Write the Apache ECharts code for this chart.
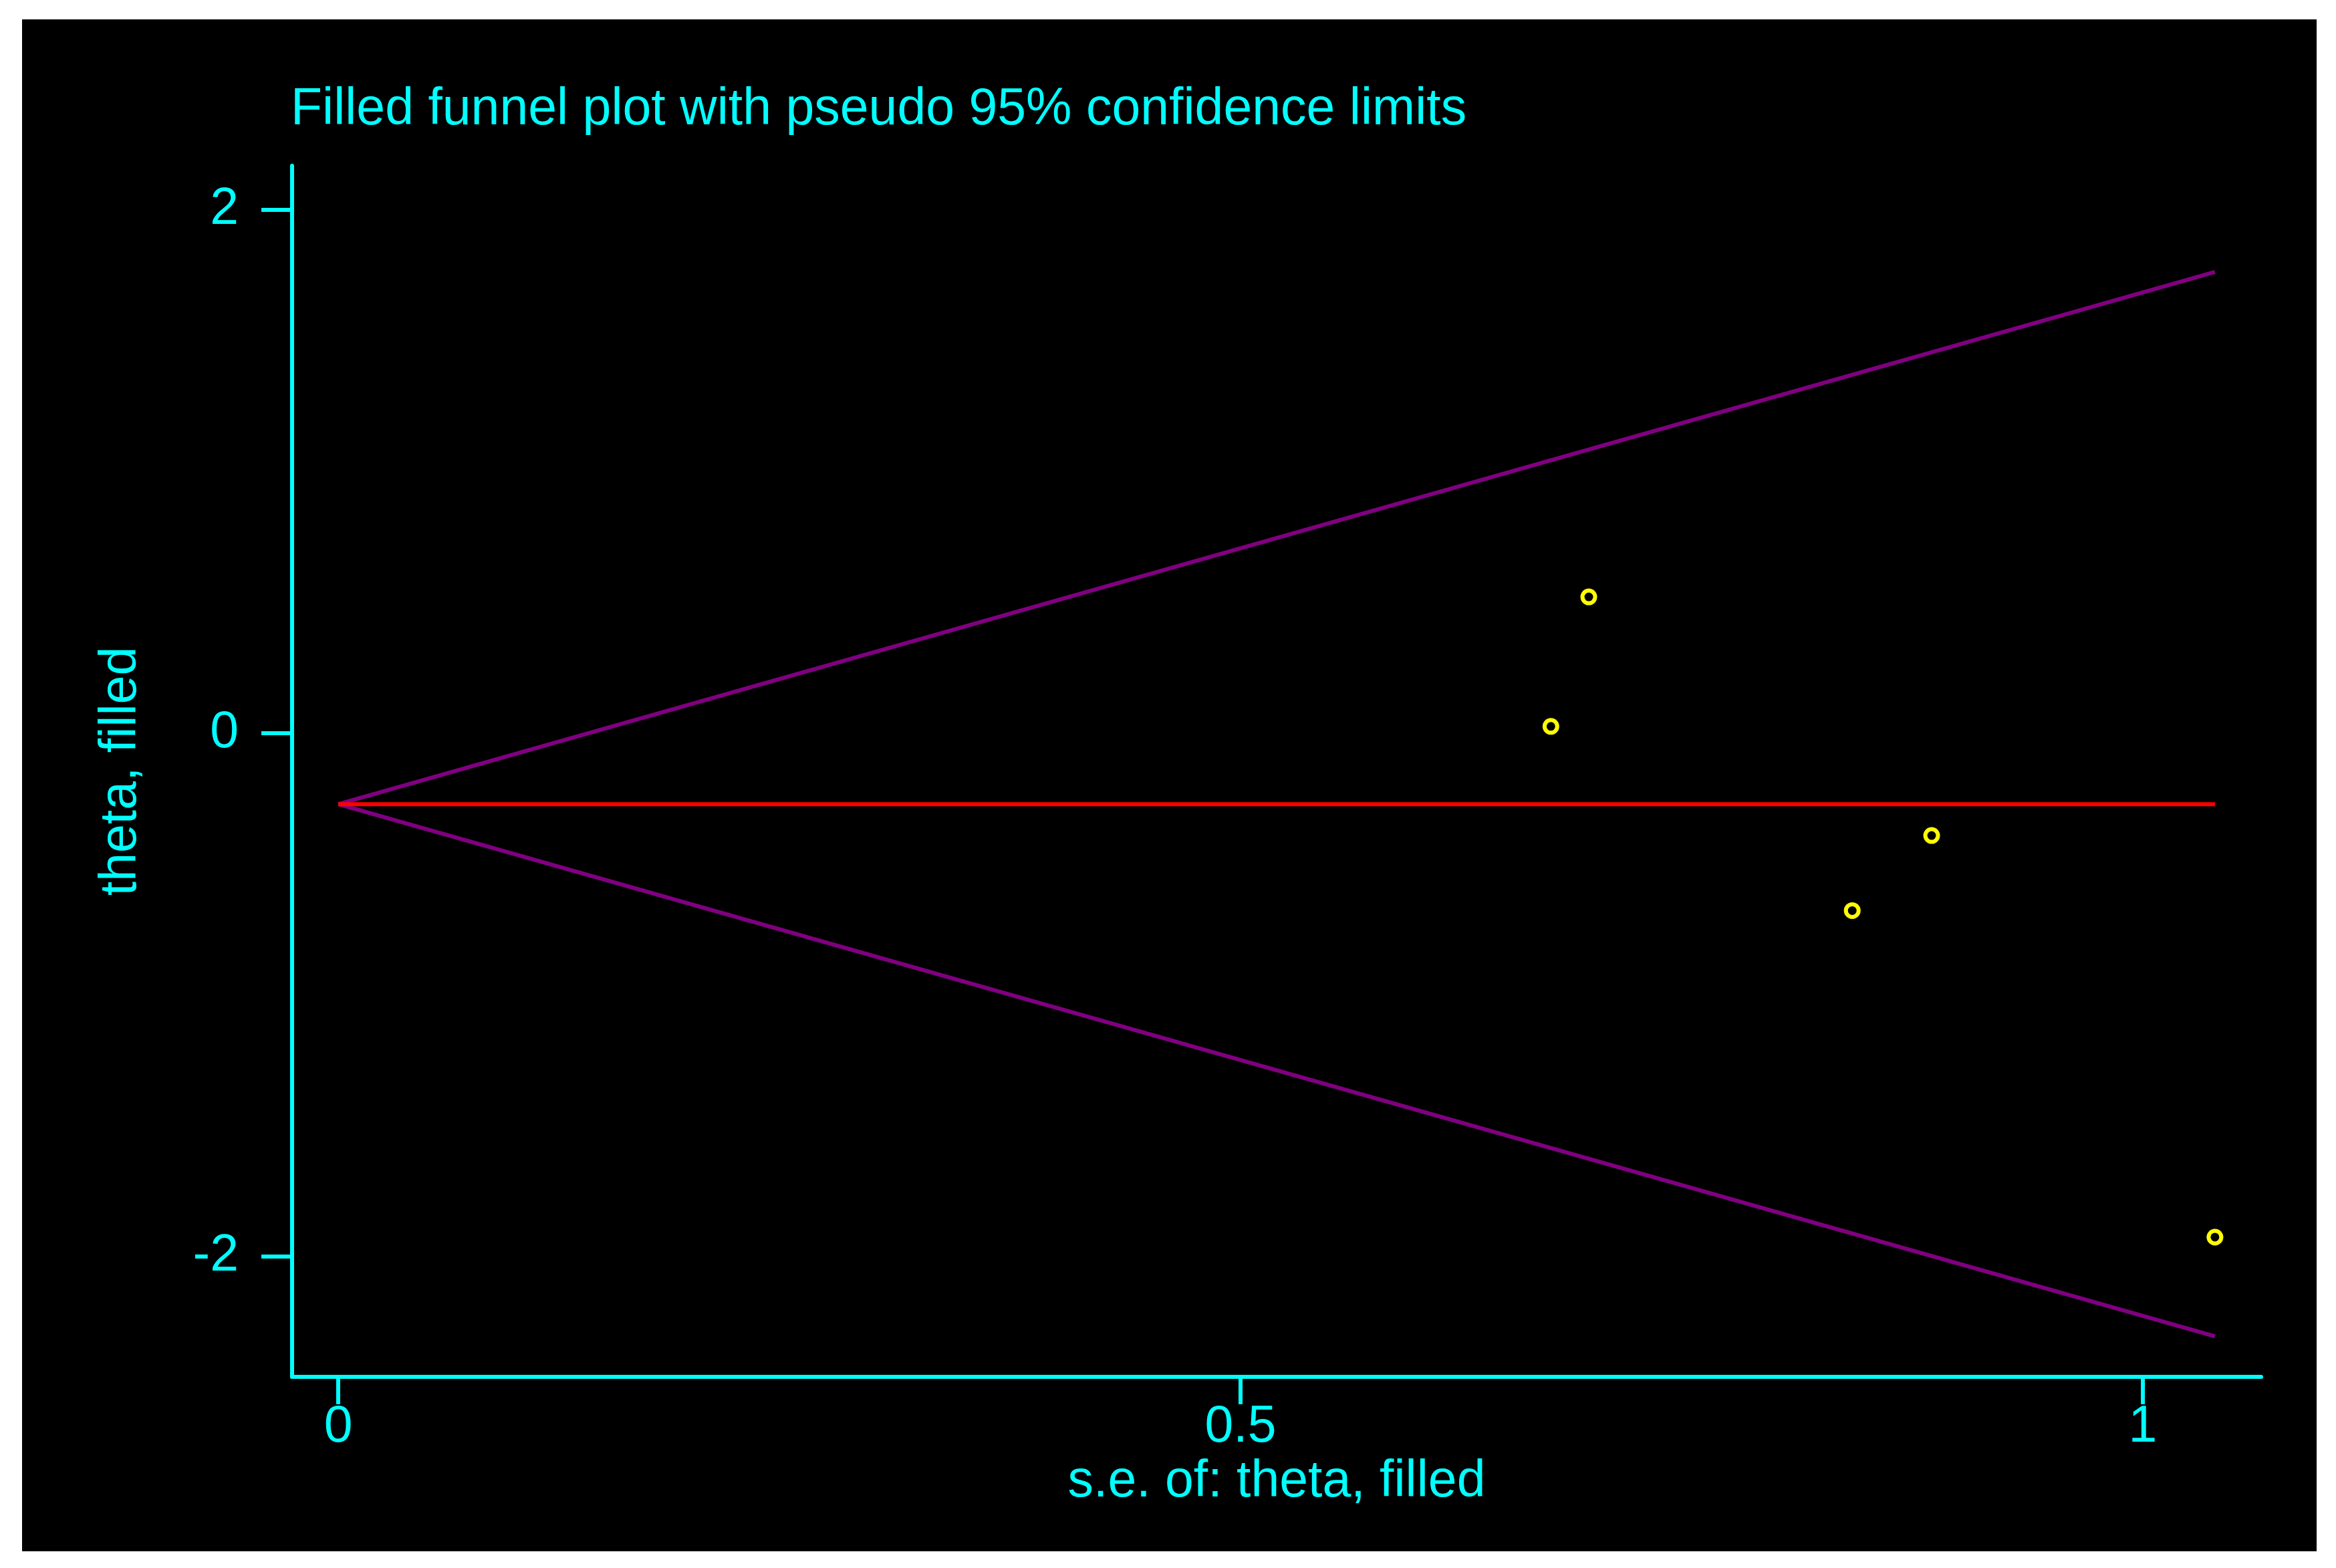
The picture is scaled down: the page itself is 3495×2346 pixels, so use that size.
<!DOCTYPE html>
<html>
<head>
<meta charset="utf-8">
<script src="https://cdn.jsdelivr.net/npm/echarts@6/dist/echarts.min.js"></script>
<style>
  html, body { margin: 0; padding: 0; background: #ffffff; width: 3495px; height: 2346px; overflow: hidden; }
  #chart { position: absolute; left: 33px; top: 29px; width: 3433px; height: 2292px; background: #000000; }
</style>
</head>
<body>
<div id="chart"></div>
<script>
// ---- data ----
const titleText = 'Filled funnel plot with pseudo 95% confidence limits';
const xAxisName = 's.e. of: theta, filled';
const yAxisName = 'theta, filled';
const xTicks = [0, 0.5, 1];
const yTicks = [-2, 0, 2];
// study points: standard error and effect estimate
const seValues = [0.693, 0.672, 0.883, 0.839, 1.040];
const thetaValues = [0.521, 0.026, -0.391, -0.678, -1.926];
// pooled estimate line and pseudo 95% limits (endpoints)
const lineSe = [0, 1.040];
const pooledLine = [-0.271, -0.271];
const upperLimit = [-0.271, 1.763];
const lowerLimit = [-0.271, -2.305];

const cyan = '#00ffff';
const font = "'Liberation Sans', Arial, sans-serif";
const fs = 77;

const chart = echarts.init(document.getElementById('chart'), null, { renderer: 'canvas' });

function pairs(xs, ys) { return xs.map((x, i) => [x, ys[i]]); }

chart.setOption({
  animation: false,
  backgroundColor: '#000000',
  title: {
    text: titleText,
    left: 402,
    top: 97,
    padding: 0,
    textStyle: { color: cyan, fontFamily: font, fontSize: fs, fontWeight: 'normal', lineHeight: fs }
  },
  grid: { left: 404, top: 219, right: 83, bottom: 261, containLabel: false },
  xAxis: {
    type: 'value',
    min: -0.0256,
    max: 1.0656,
    name: xAxisName,
    nameLocation: 'middle',
    nameGap: 115,
    nameTextStyle: { color: cyan, fontFamily: font, fontSize: fs, lineHeight: fs },
    axisLine: { show: true, onZero: false, lineStyle: { color: cyan, width: 6 } },
    axisTick: { show: true, length: 41, customValues: xTicks, lineStyle: { color: cyan, width: 6 } },
    axisLabel: { show: true, customValues: xTicks, margin: 37, color: cyan, fontFamily: font, fontSize: fs, lineHeight: fs },
    splitLine: { show: false }
  },
  yAxis: {
    type: 'value',
    min: -2.46,
    max: 2.169,
    name: yAxisName,
    nameLocation: 'middle',
    nameGap: 217,
    nameRotate: 90,
    nameTextStyle: { color: cyan, fontFamily: font, fontSize: fs, lineHeight: fs },
    axisLine: { show: true, onZero: false, lineStyle: { color: cyan, width: 6 } },
    axisTick: { show: true, length: 46, customValues: yTicks, lineStyle: { color: cyan, width: 6 } },
    axisLabel: { show: true, customValues: yTicks, margin: 80, color: cyan, fontFamily: font, fontSize: fs, lineHeight: fs },
    splitLine: { show: false }
  },
  series: [
    {
      type: 'line', data: pairs(lineSe, upperLimit), symbol: 'none',
      lineStyle: { color: '#800080', width: 6 }, z: 2
    },
    {
      type: 'line', data: pairs(lineSe, lowerLimit), symbol: 'none',
      lineStyle: { color: '#800080', width: 6 }, z: 2
    },
    {
      type: 'line', data: pairs(lineSe, pooledLine), symbol: 'none',
      lineStyle: { color: '#ff0000', width: 6 }, z: 3
    },
    {
      type: 'scatter', data: pairs(seValues, thetaValues),
      symbol: 'circle', symbolSize: 19,
      itemStyle: { color: 'rgba(0,0,0,0)', borderColor: '#ffff00', borderWidth: 6, opacity: 1 },
      z: 4
    }
  ]
});
</script>
</body>
</html>
